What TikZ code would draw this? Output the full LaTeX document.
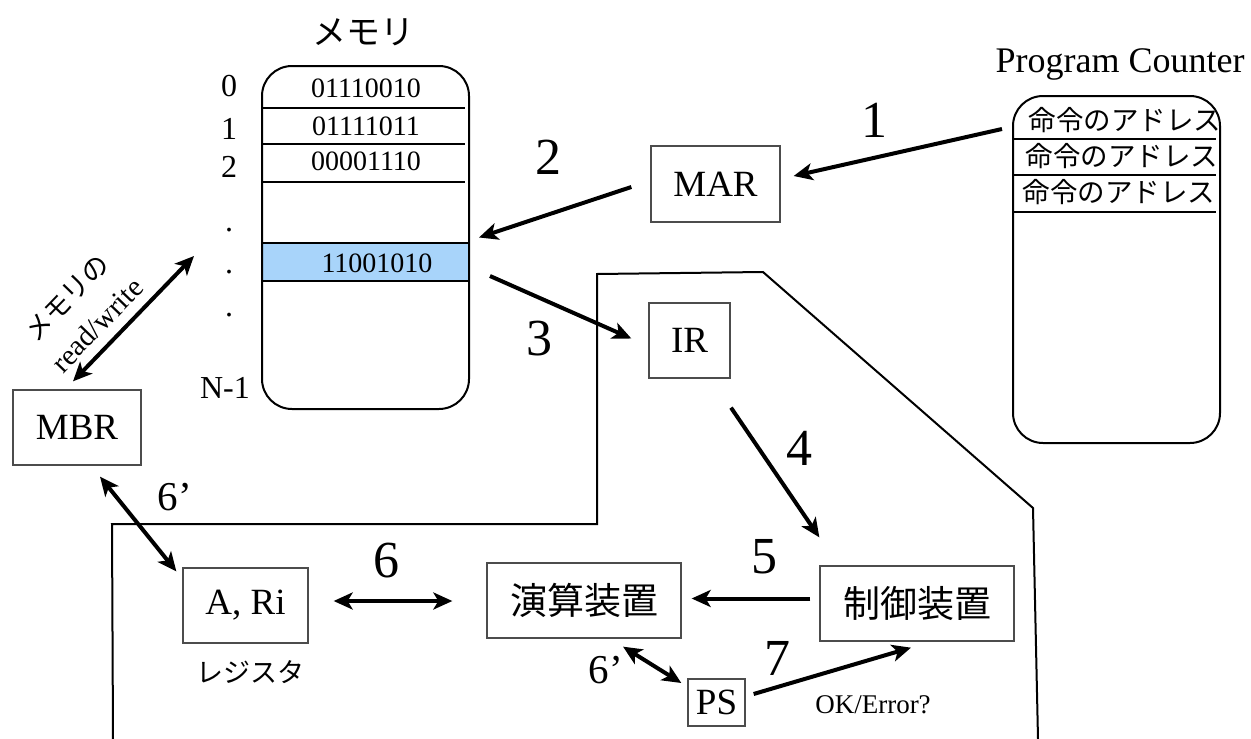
\documentclass[tikz,border=0pt]{standalone}
\usepackage{fontspec}
\setmainfont{Liberation Serif}
\newfontfamily\jp{Noto Sans CJK JP}
\usetikzlibrary{arrows.meta}
\newcommand\fsz[1]{\fontsize{#1}{#1}\selectfont}
\definecolor{cellblue}{RGB}{168,212,250}

\begin{document}
\begin{tikzpicture}[x=1pt,y=-1pt,
  box/.style={draw=black!70,line width=1.3pt,inner sep=0pt},
  tip/.tip={Stealth[length=19pt,width=17pt,inset=5pt]},
  arr/.style={line width=4pt,-tip},
  darr/.style={line width=4pt,tip-tip},
  num/.style={anchor=base,font={\fsz{52}}},
  numsm/.style={anchor=base,font={\fsz{41}}},
  idx/.style={font={\fsz{32}}},
  cell/.style={font={\fsz{28}}},
  pcrow/.style={font={\jp\fsz{27.5}}},
  rowline/.style={line width=2pt}
]
\useasboundingbox (0,0) rectangle (1251,739);

% control section outline
\draw[line width=2pt] (113,739) -- (112,524) -- (597,524) -- (597,274)
  -- (763,272) -- (1033,508) -- (1038,739);

% main memory
\filldraw[fill=cellblue,line width=2pt] (262,243) rectangle (469,281);
\node[draw,line width=2pt,rounded corners=30pt,minimum width=207pt,
  minimum height=343pt,inner sep=0pt] (mem) at (365.5,237.5) {};
\draw[rowline] (262,108) -- (465,108);
\draw[rowline] (262,144) -- (465,144);
\draw[rowline] (262,182) -- (465,182);
\node[cell] (c0) at (366,88) {01110010};
\node[cell] (c1) at (366,126) {01111011};
\node[cell] (c2) at (366,161) {00001110};
\node[cell] (cx) at (377,263) {11001010};
\node[font={\jp\fsz{34}}] (memtitle) at (363,32) {メモリ};

% addresses
\node[idx] (a0) at (229,86) {0};
\node[idx] (a1) at (229,129) {1};
\node[idx] (a2) at (229,167) {2};
\node[idx,anchor=base] (d1) at (229,231) {.};
\node[idx,anchor=base] (d2) at (229,273) {.};
\node[idx,anchor=base] (d3) at (229,316) {.};
\node[idx] (aN) at (225,388) {N-1};

% program counter
\node[draw,line width=2pt,rounded corners=30pt,minimum width=207pt,
  minimum height=347pt,inner sep=0pt] (pc) at (1116.5,269.5) {};
\draw[rowline] (1013,139) -- (1216,139);
\draw[rowline] (1013,175) -- (1216,175);
\draw[rowline] (1013,212) -- (1216,212);
\node[pcrow] (p0) at (1125,120) {命令のアドレス};
\node[pcrow] (p1) at (1122,156) {命令のアドレス};
\node[pcrow] (p2) at (1119,192) {命令のアドレス};
\node[anchor=base,font={\fsz{36}}] (pctitle) at (1120,72) {Program Counter};

% registers and units
\node[box,minimum width=129pt,minimum height=76pt,font={\fsz{37}}] (MAR) at (715.5,184) {MAR};
\node[box,minimum width=81pt,minimum height=75pt,font={\fsz{37}}] (IR) at (689.5,340.5) {IR};
\node[box,minimum width=128pt,minimum height=75pt,font={\fsz{37}}] (MBR) at (77,427.5) {MBR};
\node[box,minimum width=125pt,minimum height=75pt,font={\fsz{37}}] (ARi) at (245.5,605.5) {A, Ri};
\node[box,minimum width=194pt,minimum height=75pt,font={\jp\fsz{37}}] (ALU) at (584,600.5) {演算装置};
\node[box,minimum width=194pt,minimum height=75pt,font={\jp\fsz{37}}] (CU) at (917,603.5) {制御装置};
\node[box,minimum width=57pt,minimum height=47pt,font={\fsz{37}}] (PS) at (716.5,702.5) {PS};
\node[font={\jp\fsz{27}}] (reg) at (250,672) {レジスタ};

% data paths
\draw[arr] ([shift={(-10,34)}]pc.north west) -- ([shift={(13,-8)}]MAR.east);
\draw[arr] ([shift={(-19,3)}]MAR.west) -- ([shift={(9,0)}]mem.east);
\draw[arr] ([shift={(20,38.5)}]mem.east) -- ([shift={(-17,-2)}]IR.west);
\draw[arr] ([shift={(41.5,29)}]IR.south) -- ([shift={(0,-28)}]CU.north west);
\draw[arr] ([shift={(-9,-5)}]CU.west) -- ([shift={(10,-2)}]ALU.east);
\draw[darr] ([shift={(25,-4.5)}]ARi.east) -- ([shift={(-34,0.5)}]ALU.west);
\draw[darr] ([shift={(39,8)}]ALU.south) -- ([shift={(-6,-19.5)}]PS.west);
\draw[arr] ([shift={(8,-8.5)}]PS.east) -- ([shift={(-6,6)}]CU.south);
\draw[darr] ([shift={(23,11)}]MBR.south) -- ([shift={(-6,4)}]ARi.north west);
\draw[darr] ([shift={(-4,-8)}]MBR.north) -- ([shift={(-67,18.5)}]mem.west);

% step numbers and notes
\node[num] (s1) at (874,137) {1};
\node[num] (s2) at (548,174) {2};
\node[num] (s3) at (539,355) {3};
\node[num] (s4) at (799,465) {4};
\node[num] (s5) at (764,573) {5};
\node[num] (s6) at (386,577) {6};
\node[num] (s7) at (777,675) {7};
\node[numsm] (s6a) at (175,510) {6’};
\node[numsm] (s6b) at (606,683) {6’};
\node[anchor=base,font={\fsz{27}}] (ok) at (873,713) {OK/Error?};
\node[rotate=46,inner sep=0pt,font={\jp\fsz{27}}] (rw1) at (67,298) {メモリの};
\node[rotate=46,inner sep=0pt,font={\fsz{29}}] (rw2) at (97,325) {read/write};
\end{tikzpicture}
\end{document}
